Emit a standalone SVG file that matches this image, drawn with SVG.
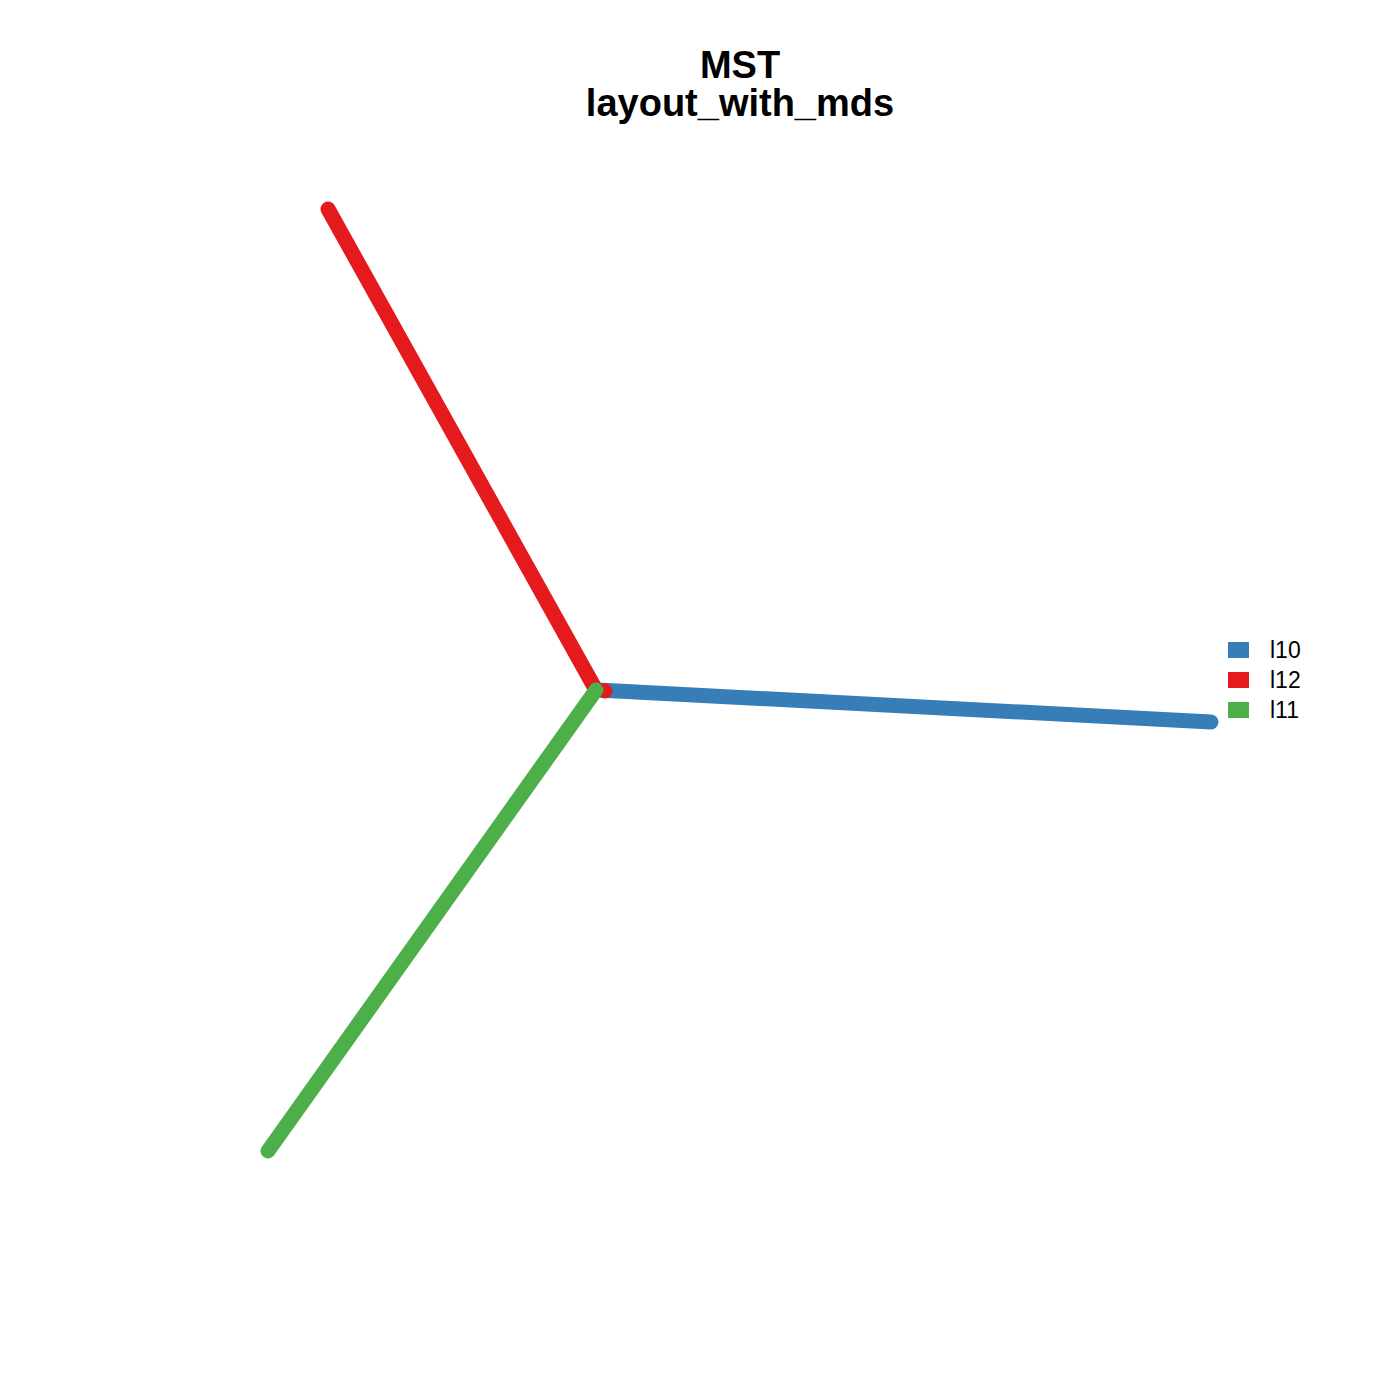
<svg xmlns="http://www.w3.org/2000/svg" width="1400" height="1400" viewBox="0 0 1400 1400">
<style>
.t{font-family:"Liberation Sans",Arial,sans-serif;font-weight:bold;font-size:38px;text-anchor:middle;fill:#000}
.l{font-family:"Liberation Sans",Arial,sans-serif;font-size:23px;fill:#000}
.e{stroke-width:15;stroke-linecap:round;fill:none}
</style>
<rect width="1400" height="1400" fill="#fff"/>
<text class="t" x="740" y="78">MST</text>
<text class="t" x="740" y="116">layout_with_mds</text>
<g id="connectors">
<line class="e" x1="598" y1="690" x2="1211" y2="722" stroke="#377EB8"/>
<line class="e" x1="328" y1="209" x2="596" y2="690" stroke="#E41A1C"/>
<circle cx="605" cy="691" r="7.5" fill="#E41A1C"/>
<line class="e" x1="596" y1="690" x2="268" y2="1151" stroke="#4DAF4A"/>
</g>
<g id="legend">
<rect x="1228" y="642" width="21" height="16" fill="#377EB8"/>
<rect x="1228" y="672" width="21" height="16" fill="#E41A1C"/>
<rect x="1228" y="702" width="21" height="16" fill="#4DAF4A"/>
<text class="l" x="1270" y="658">l10</text>
<text class="l" x="1270" y="688">l12</text>
<text class="l" x="1270" y="718">l11</text>
</g>
</svg>
